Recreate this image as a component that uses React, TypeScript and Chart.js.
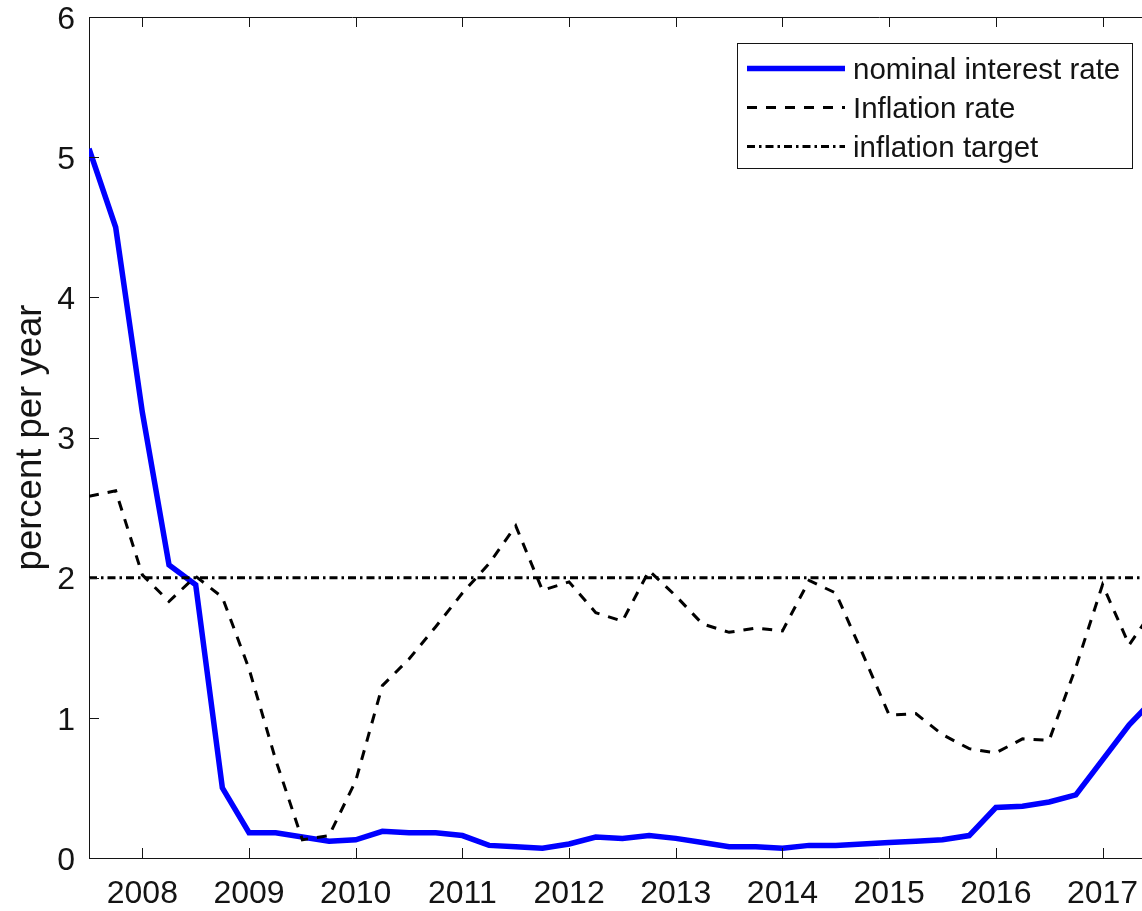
import React, { useEffect, useRef } from 'react';
import { Chart, registerables } from 'chart.js';

Chart.register(...registerables);

// Quarterly observation dates (fractional years)
const periods = [
  2007.5, 2007.75, 2008.0, 2008.25, 2008.5, 2008.75, 2009.0, 2009.25, 2009.5, 2009.75,
  2010.0, 2010.25, 2010.5, 2010.75, 2011.0, 2011.25, 2011.5, 2011.75, 2012.0, 2012.25,
  2012.5, 2012.75, 2013.0, 2013.25, 2013.5, 2013.75, 2014.0, 2014.25, 2014.5, 2014.75,
  2015.0, 2015.25, 2015.5, 2015.75, 2016.0, 2016.25, 2016.5, 2016.75, 2017.0, 2017.25,
  2017.5,
];

// Nominal interest rate, percent per year
const interestRate = [
  5.06, 4.5, 3.18, 2.09, 1.95, 0.5, 0.18, 0.18, 0.15, 0.12,
  0.13, 0.19, 0.18, 0.18, 0.16, 0.09, 0.08, 0.07, 0.1, 0.15,
  0.14, 0.16, 0.14, 0.11, 0.08, 0.08, 0.07, 0.09, 0.09, 0.1,
  0.11, 0.12, 0.13, 0.16, 0.36, 0.37, 0.4, 0.45, 0.7, 0.95,
  1.15,
];

// Inflation rate, percent per year
const inflationRate = [
  2.58, 2.62, 2.02, 1.83, 2.01, 1.86, 1.35, 0.7, 0.13, 0.16,
  0.55, 1.23, 1.42, 1.65, 1.89, 2.1, 2.37, 1.91, 1.97, 1.75,
  1.69, 2.05, 1.87, 1.67, 1.61, 1.64, 1.62, 1.98, 1.89, 1.46,
  1.02, 1.03, 0.88, 0.78, 0.75, 0.85, 0.84, 1.36, 1.95, 1.52,
  1.8,
];

// Inflation target, percent per year
const targetRate = 2;

const yearTicks = [2008, 2009, 2010, 2011, 2012, 2013, 2014, 2015, 2016, 2017];
const rateTicks = [0, 1, 2, 3, 4, 5, 6];
const seriesLabels = ['nominal interest rate', 'Inflation rate', 'inflation target'];
const yAxisTitle = 'percent per year';

const X_MIN = 2007.5;
const X_MAX = 2017.37;
const FONT = "'Liberation Sans', Arial, Helvetica, sans-serif";
const INK = '#141414';

// Fixes a scale's thickness and drops the extra edge padding Chart.js reserves for labels
const fixSize = (prop: 'width' | 'height', size: number) => (s: any) => {
  s[prop] = size;
  s.paddingTop = 0;
  s.paddingBottom = 0;
  s.paddingLeft = 0;
  s.paddingRight = 0;
};

// Tick marks pointing into the plot box (bottom, top and left edges)
const inwardTicks = {
  id: 'inwardTicks',
  afterDatasetsDraw(chart: any) {
    const { ctx, chartArea } = chart;
    const xs = chart.scales.x;
    const ys = chart.scales.y;
    const len = 10;
    ctx.save();
    ctx.strokeStyle = INK;
    ctx.lineWidth = 1;
    ctx.setLineDash([]);
    ctx.beginPath();
    for (const t of xs.ticks) {
      const px = Math.round(xs.getPixelForValue(t.value)) + 0.5;
      ctx.moveTo(px, chartArea.bottom);
      ctx.lineTo(px, chartArea.bottom - len);
      ctx.moveTo(px, chartArea.top);
      ctx.lineTo(px, chartArea.top + len);
    }
    for (const t of ys.ticks) {
      const py = Math.round(ys.getPixelForValue(t.value)) + 0.5;
      ctx.moveTo(chartArea.left, py);
      ctx.lineTo(chartArea.left + len, py);
    }
    ctx.stroke();
    ctx.restore();
  },
};

// Boxed legend in the upper right corner of the plot
const boxLegend = {
  id: 'boxLegend',
  afterDraw(chart: any) {
    const { ctx, chartArea } = chart;
    const width = 395;
    const height = 125;
    const right = chartArea.right - 10;
    const top = chartArea.top + 26;
    const left = right - width;
    ctx.save();
    ctx.fillStyle = '#ffffff';
    ctx.fillRect(left, top, width, height);
    ctx.setLineDash([]);
    ctx.strokeStyle = INK;
    ctx.lineWidth = 1;
    ctx.strokeRect(left + 0.5, top + 0.5, width, height);
    chart.data.datasets.forEach((ds: any, i: number) => {
      const cy = top + 25.5 + i * 39;
      ctx.beginPath();
      ctx.setLineDash(ds.borderDash || []);
      ctx.lineWidth = ds.borderWidth;
      ctx.strokeStyle = ds.borderColor;
      ctx.moveTo(left + 10, cy);
      ctx.lineTo(left + 108, cy);
      ctx.stroke();
      ctx.setLineDash([]);
      ctx.fillStyle = INK;
      ctx.font = `29.5px ${FONT}`;
      ctx.textAlign = 'left';
      ctx.textBaseline = 'middle';
      ctx.fillText(ds.label, left + 116, cy + 2);
    });
    ctx.restore();
  },
};

export default function App() {
  const canvasRef = useRef<HTMLCanvasElement | null>(null);

  useEffect(() => {
    const canvas = canvasRef.current;
    if (!canvas) return;

    const chart = new Chart(canvas, {
      type: 'line',
      data: {
        datasets: [
          {
            label: seriesLabels[0],
            data: periods.map((p, i) => ({ x: p, y: interestRate[i] })),
            borderColor: '#0000ff',
            borderWidth: 5.5,
            pointRadius: 0,
            tension: 0,
            fill: false,
            order: 3,
          },
          {
            label: seriesLabels[1],
            data: periods.map((p, i) => ({ x: p, y: inflationRate[i] })),
            borderColor: '#000000',
            borderWidth: 3,
            borderDash: [10, 9],
            pointRadius: 0,
            tension: 0,
            fill: false,
            order: 2,
          },
          {
            label: seriesLabels[2],
            data: periods.map((p) => ({ x: p, y: targetRate })),
            borderColor: '#000000',
            borderWidth: 3,
            borderDash: [8, 4, 2.5, 4],
            pointRadius: 0,
            tension: 0,
            fill: false,
            order: 1,
          },
        ],
      },
      options: {
        animation: false,
        responsive: false,
        maintainAspectRatio: false,
        devicePixelRatio: 1,
        layout: { padding: 0 },
        plugins: {
          legend: { display: false },
          tooltip: { enabled: false },
        },
        scales: {
          x: {
            type: 'linear',
            position: 'bottom',
            min: X_MIN,
            max: X_MAX,
            afterBuildTicks: (s: any) => {
              s.ticks = yearTicks.map((v) => ({ value: v }));
            },
            afterFit: fixSize('height', 53),
            grid: { display: false, drawTicks: false },
            border: { display: true, color: INK, width: 1 },
            ticks: {
              padding: 17,
              color: INK,
              font: { family: FONT, size: 32 },
              maxRotation: 0,
              autoSkip: false,
              callback: (v: any) => String(v),
            },
          },
          xTop: {
            type: 'linear',
            position: 'top',
            min: X_MIN,
            max: X_MAX,
            afterFit: fixSize('height', 17),
            grid: { display: false, drawTicks: false },
            border: { display: true, color: INK, width: 1 },
            ticks: { display: false },
          },
          y: {
            type: 'linear',
            position: 'left',
            min: 0,
            max: 6,
            afterBuildTicks: (s: any) => {
              s.ticks = rateTicks.map((v) => ({ value: v }));
            },
            afterFit: fixSize('width', 89),
            grid: { display: false, drawTicks: false },
            border: { display: true, color: INK, width: 1 },
            ticks: {
              padding: 14,
              labelOffset: 3,
              color: INK,
              font: { family: FONT, size: 32 },
              callback: (v: any) => String(v),
            },
            title: {
              display: true,
              text: yAxisTitle,
              color: INK,
              font: { family: FONT, size: 36.5 },
              padding: { top: 9, bottom: 0 },
            },
          },
        },
      },
      plugins: [inwardTicks, boxLegend],
    });

    return () => chart.destroy();
  }, []);

  return (
    <div style={{ position: 'absolute', left: 0, top: 0, width: 1142, height: 911, background: '#ffffff' }}>
      <canvas ref={canvasRef} width={1142} height={911} style={{ width: 1142, height: 911, display: 'block' }} />
    </div>
  );
}
